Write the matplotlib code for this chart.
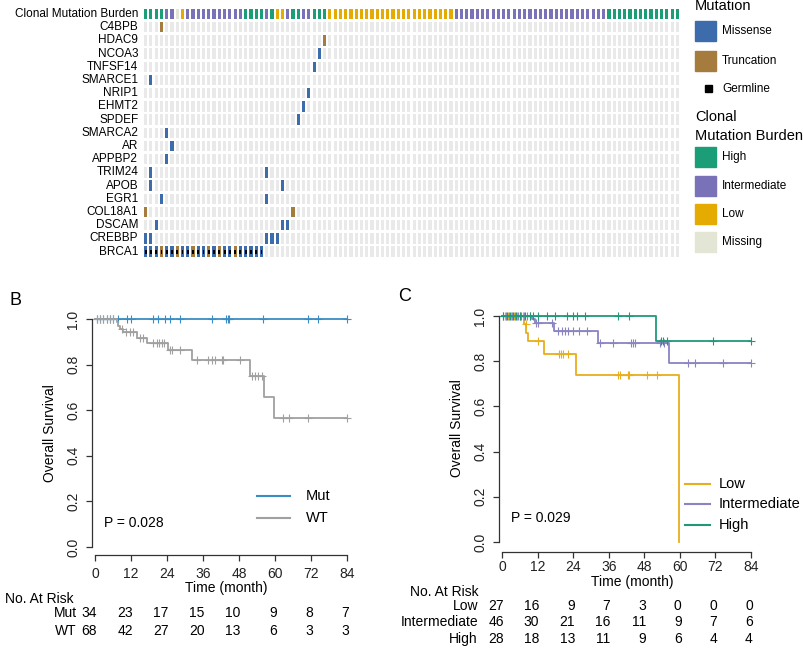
import numpy as np
import matplotlib
matplotlib.use("Agg")
import matplotlib.pyplot as plt
from matplotlib.patches import Rectangle
from matplotlib.lines import Line2D
from matplotlib.transforms import blended_transform_factory

plt.rcParams['font.family'] = ['Liberation Sans', 'DejaVu Sans']

# ---- data ----
genes = ['C4BPB', 'HDAC9', 'NCOA3', 'TNFSF14', 'SMARCE1', 'NRIP1', 'EHMT2', 'SPDEF',
         'SMARCA2', 'AR', 'APPBP2', 'TRIM24', 'APOB', 'EGR1', 'COL18A1', 'DSCAM',
         'CREBBP', 'BRCA1']

# clonal mutation burden per patient, as runs (label, count)
burden_runs = [('High', 4), ('Intermediate', 2), ('Missing', 1), ('Low', 1),
               ('Intermediate', 11), ('High', 4), ('Intermediate', 1), ('High', 1),
               ('Low', 2), ('Intermediate', 1), ('High', 2), ('Intermediate', 2),
               ('High', 3), ('Low', 24), ('Intermediate', 29), ('High', 14)]

missense = {'NCOA3': [33], 'TNFSF14': [32], 'SMARCE1': [1], 'NRIP1': [31],
            'EHMT2': [30], 'SPDEF': [29], 'SMARCA2': [4], 'AR': [5], 'APPBP2': [4],
            'TRIM24': [1, 23], 'APOB': [1, 26], 'EGR1': [3, 23], 'DSCAM': [2, 26, 27],
            'CREBBP': [0, 1, 23, 24, 25],
            'BRCA1': [0, 1, 2, 4, 5, 7, 8, 10, 11, 13, 15, 16, 18, 19, 20, 21, 22]}
truncation = {'C4BPB': [3], 'HDAC9': [34], 'COL18A1': [0, 28],
              'BRCA1': [3, 6, 9, 12, 14, 17]}
germline = {'BRCA1': list(range(0, 23))}

# KM panel B
mut_times = [0, 84]
mut_surv = [1.0, 1.0]
mut_censor = [0.8, 1.7, 2.8, 3.9, 5.0, 6.1, 7.8, 10.6, 12.0, 19.4, 21.1, 23.3, 25.0,
              28.3, 38.9, 43.7, 44.2, 44.7, 56.1, 71.1, 74.4, 83.9]
wt_times = [0, 7.2, 7.7, 8.4, 9.5, 13.9, 17.2, 24.4, 32.2, 51.7, 56.4, 59.7, 84]
wt_surv = [1.0, 0.985, 0.971, 0.956, 0.941, 0.918, 0.893, 0.864, 0.82, 0.75, 0.66,
           0.565, 0.565]
wt_censor = [0.8, 1.7, 2.8, 3.9, 5.0, 6.1, 8.9, 10.5, 11.7, 12.8, 15.0, 16.1, 19.4,
             20.6, 21.4, 22.2, 23.0, 25.0, 25.6, 28.3, 33.9, 37.8, 38.9, 40.0, 42.2,
             42.6, 48.3, 52.2, 53.3, 54.4, 55.6, 62.6, 64.8, 71.1, 84]

# KM panel C
high_times = [0, 52.0, 84]
high_surv = [1.0, 0.889, 0.889]
high_censor = [0.4, 1.6, 2.7, 3.8, 4.9, 6.1, 7.8, 9.4, 10.6, 12.3, 15.1, 17.9, 21.8,
               23.8, 25.2, 28.0, 39.2, 43.0, 53.6, 54.4, 55.5, 71.3, 84]
int_times = [0, 10.0, 11.0, 17.5, 32.3, 56.4, 84]
int_surv = [1.0, 0.985, 0.97, 0.934, 0.882, 0.793, 0.793]
int_censor = [0.5, 1.5, 2.5, 3.5, 4.5, 5.5, 6.5, 7.5, 8.5, 9.5, 11.5, 12.3, 16.8, 19.0,
              20.1, 21.3, 22.4, 24.1, 26.0, 28.6, 33.1, 37.6, 43.5, 44.3, 44.9, 53.3,
              54.8, 62.9, 65.1, 74.7, 84]
low_times = [0, 7.5, 8.2, 8.9, 14.2, 25.0, 59.8]
low_surv = [1.0, 0.963, 0.926, 0.889, 0.833, 0.74, 0.0]
low_censor = [1.0, 2.0, 3.0, 4.0, 5.0, 6.0, 7.0, 8.0, 12.3, 19.3, 19.9, 20.5, 22.4,
              39.2, 39.8, 42.4, 43.0, 48.8, 52.4]

risk_times = [0, 12, 24, 36, 48, 60, 72, 84]
risk_b = {'Mut': [34, 23, 17, 15, 10, 9, 8, 7],
          'WT': [68, 42, 27, 20, 13, 6, 3, 3]}
risk_c = {'Low': [27, 16, 9, 7, 3, 0, 0, 0],
          'Intermediate': [46, 30, 21, 16, 11, 9, 7, 6],
          'High': [28, 18, 13, 11, 9, 6, 4, 4]}

# ---- colours ----
mut_colors = {'Missense': '#3D6CAD', 'Truncation': '#A67B3E'}
burden_colors = {'High': '#1B9E77', 'Intermediate': '#7A72B8', 'Low': '#E6AB02',
                 'Missing': '#E3E6D5'}
bg_grey = '#E9E9E9'
axis_col = '#333333'

W, H = 804, 648
fig = plt.figure(figsize=(W / 100, H / 100), dpi=100)


def add_ax(left, top, right, bottom):
    return fig.add_axes([left / W, 1 - bottom / H, (right - left) / W, (bottom - top) / H])


def ftext(x, y, s, **kw):
    fig.text(x / W, 1 - y / H, s, **kw)


# ---- oncoprint ----
burden = [lab for lab, n in burden_runs for _ in range(n)]
ncol = len(burden)
cols = np.arange(ncol)

ax = add_ax(143, 7.4, 680, 258.2)
ax.set_xlim(-0.5, ncol - 0.5)
ax.set_ylim(len(genes) + 0.5, -0.5)
ax.axis('off')

ax.bar(cols, 0.76, width=0.6, bottom=-0.38, color=[burden_colors[b] for b in burden])
ax.text(-1.4, 0, 'Clonal Mutation Burden', ha='right', va='center', fontsize=8.5)
for i, g in enumerate(genes, start=1):
    ax.bar(cols, 0.8, width=0.6, bottom=i - 0.4, color=bg_grey)
    if g in missense:
        ax.bar(missense[g], 0.8, width=0.6, bottom=i - 0.4, color=mut_colors['Missense'])
    if g in truncation:
        ax.bar(truncation[g], 0.8, width=0.6, bottom=i - 0.4, color=mut_colors['Truncation'])
    if g in germline:
        ax.bar(germline[g], 0.3, width=0.35, bottom=i - 0.15, color='black')
    ax.text(-1.4, i, g, ha='right', va='center', fontsize=8.5)

# legend for oncoprint
ftext(695, 6, 'Mutation', ha='left', va='center', fontsize=10.5)
leg_items = [('Missense', mut_colors['Missense'], 31), ('Truncation', mut_colors['Truncation'], 61)]
for name, c, yc in leg_items:
    fig.add_artist(Rectangle(((695) / W, 1 - (yc + 10) / H), 21 / W, 20 / H,
                             color=c, transform=fig.transFigure))
    ftext(722, yc, name, ha='left', va='center', fontsize=8.5)
fig.add_artist(Rectangle((705 / W, 1 - 92 / H), 7 / W, 7 / H, color='black',
                         transform=fig.transFigure))
ftext(722, 89, 'Germline', ha='left', va='center', fontsize=8.5)
ftext(695, 117, 'Clonal', ha='left', va='center', fontsize=10.5)
ftext(695, 136, 'Mutation Burden', ha='left', va='center', fontsize=10.5)
for name, yc in [('High', 157), ('Intermediate', 186), ('Low', 214), ('Missing', 242)]:
    fig.add_artist(Rectangle((695 / W, 1 - (yc + 10) / H), 21 / W, 20 / H,
                             color=burden_colors[name], transform=fig.transFigure))
    ftext(722, yc, name, ha='left', va='center', fontsize=8.5)


# ---- KM panels ----
def km_plot(ax, times, surv, censor, color):
    ax.step(times, surv, where='post', color=color, lw=1.3, clip_on=False)
    idx = np.searchsorted(times, censor, side='right') - 1
    ax.plot(censor, np.asarray(surv)[idx], ls='none', marker='+', ms=6, mew=0.8,
            color=color, clip_on=False)


def style_km(ax, off, xpad):
    ax.set_xlim(-1, 85)
    ax.set_ylim(-0.02, 1.02)
    for s in ['top', 'right']:
        ax.spines[s].set_visible(False)
    for s in ['left', 'bottom']:
        ax.spines[s].set_color(axis_col)
        ax.spines[s].set_linewidth(0.9)
    ax.spines['left'].set_bounds(0, 1)
    ax.spines['bottom'].set_bounds(0, 84)
    ax.spines['bottom'].set_position(('outward', off))
    ax.set_xticks(risk_times)
    yt = np.arange(0, 1.01, 0.2)
    ax.set_yticks(yt)
    ax.set_yticklabels([f'{v:.1f}' for v in yt], rotation=90, va='center')
    ax.tick_params(length=4.5, width=0.9, color=axis_col, labelsize=10,
                   labelcolor='#222222')
    ax.tick_params(axis='y', pad=4)
    ax.tick_params(axis='x', pad=xpad)


def risk_table(ax, table, ys, label_x):
    tr = blended_transform_factory(ax.transData, fig.transFigure)
    for (name, vals), y in zip(table.items(), ys):
        ftext(label_x, y, name, ha='right', va='center', fontsize=10)
        for t, v in zip(risk_times, vals):
            ax.text(t + 0.6, 1 - y / H, str(v), ha='right', va='center', fontsize=10,
                    transform=tr)


# panel B
axb = add_ax(92, 314.4, 350, 551.6)
style_km(axb, 2.8, 3.5)
km_plot(axb, mut_times, mut_surv, mut_censor, '#3A8DC4')
km_plot(axb, wt_times, wt_surv, wt_censor, '#A0A0A0')
ftext(10, 300, 'B', ha='left', va='center', fontsize=13)
ftext(50, 433, 'Overall Survival', rotation=90, ha='center', va='center', fontsize=10)
ftext(226, 588, 'Time (month)', ha='center', va='center', fontsize=10)
ftext(104, 523, 'P = 0.028', ha='left', va='center', fontsize=10)
for name, c, yc in [('Mut', '#3A8DC4', 496), ('WT', '#A0A0A0', 518)]:
    fig.add_artist(Line2D([257 / W, 290 / W], [1 - yc / H] * 2, color=c, lw=1.5,
                          transform=fig.transFigure))
    ftext(306, yc, name, ha='left', va='center', fontsize=10.5)
ftext(5, 599, 'No. At Risk', ha='left', va='center', fontsize=10)
risk_table(axb, risk_b, [613, 631], 77)

# panel C
axc = add_ax(499, 311.5, 754, 546.5)
style_km(axc, 4, 1.5)
km_plot(axc, low_times, low_surv, low_censor, '#E7AE1E')
km_plot(axc, int_times, int_surv, int_censor, '#8A84C2')
km_plot(axc, high_times, high_surv, high_censor, '#21987A')
ftext(398, 297, 'C', ha='left', va='center', fontsize=13)
ftext(457, 428, 'Overall Survival', rotation=90, ha='center', va='center', fontsize=10)
ftext(632, 582, 'Time (month)', ha='center', va='center', fontsize=10)
ftext(511, 518, 'P = 0.029', ha='left', va='center', fontsize=10)
for name, c, yc in [('Low', '#E7AE1E', 484), ('Intermediate', '#8A84C2', 504),
                    ('High', '#21987A', 525)]:
    fig.add_artist(Line2D([685 / W, 710 / W], [1 - yc / H] * 2, color=c, lw=1.5,
                          transform=fig.transFigure))
    ftext(719, yc, name, ha='left', va='center', fontsize=10.5)
ftext(410, 592.5, 'No. At Risk', ha='left', va='center', fontsize=10)
risk_table(axc, risk_c, [606.5, 622, 639], 478)

fig.savefig('out.png', dpi=100)
